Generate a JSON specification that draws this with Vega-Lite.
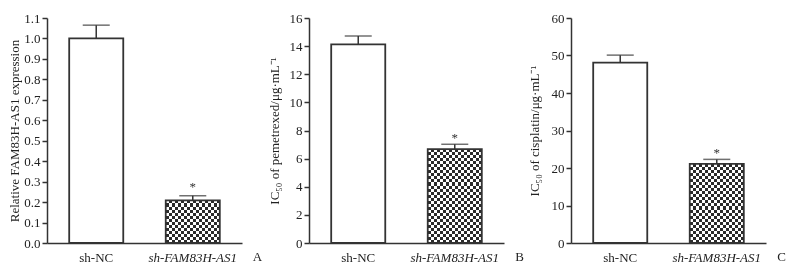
{
  "$schema": "https://vega.github.io/schema/vega-lite/v6.json",
  "background": "white",
  "padding": {"left": 8, "top": 10, "right": 0, "bottom": 0},
  "config": {
    "view": {"stroke": null},
    "font": "Liberation Serif",
    "axis": {"domainColor": "#333", "domainWidth": 1.5, "tickColor": "#333", "tickWidth": 1.5, "labelFont": "Liberation Serif", "labelColor": "#222", "titleFont": "Liberation Serif", "titleColor": "#222", "titleFontWeight": "normal", "grid": false, "labelOverlap": false},
    "axisY": {"tickSize": 5, "labelFontSize": 13, "labelPadding": 2, "titleFontSize": 13},
    "axisX": {"labelAngle": 0, "ticks": false, "labelPadding": 8, "labelFontSize": 13, "titleFontSize": 13, "titleX": 210, "titleY": 13, "titleAlign": "center", "titleBaseline": "middle"}
  },
  "bounds": "flush",
  "spacing": 67,
  "datasets": {
    "A": [
      {"group": "sh-NC", "value": 1.0, "upper": 1.065, "star": ""},
      {"group": "sh-FAM83H-AS1", "value": 0.208, "upper": 0.231, "star": "*"}
    ],
    "B": [
      {"group": "sh-NC", "value": 14.12, "upper": 14.72, "star": ""},
      {"group": "sh-FAM83H-AS1", "value": 6.67, "upper": 7.02, "star": "*"}
    ],
    "C": [
      {"group": "sh-NC", "value": 48.1, "upper": 50.1, "star": ""},
      {"group": "sh-FAM83H-AS1", "value": 21.1, "upper": 22.3, "star": "*"}
    ]
  },
  "hconcat": [
    {
      "width": 195,
      "height": 225,
      "data": {"name": "A"},
      "encoding": {
        "x": {
          "field": "group", "type": "nominal", "sort": ["sh-NC", "sh-FAM83H-AS1"],
          "scale": {"paddingInner": 0.44, "paddingOuter": 0.23},
          "axis": {"title": "A", "labelFontStyle": {"condition": {"test": "datum.value === 'sh-FAM83H-AS1'", "value": "italic"}, "value": "normal"}}
        }
      },
      "layer": [
        {
          "transform": [{"filter": "datum.group === 'sh-FAM83H-AS1'"}],
          "mark": {"type": "bar", "strokeWidth": 0, "fill": {"gradient": "linear", "x1": 0, "y1": 0, "x2": 1, "y2": 0, "stops": [
            {"offset": 0, "color": "#000"}, {"offset": 0.0556, "color": "#000"},
            {"offset": 0.0556, "color": "#fff"}, {"offset": 0.1111, "color": "#fff"},
            {"offset": 0.1111, "color": "#000"}, {"offset": 0.1667, "color": "#000"},
            {"offset": 0.1667, "color": "#fff"}, {"offset": 0.2222, "color": "#fff"},
            {"offset": 0.2222, "color": "#000"}, {"offset": 0.2778, "color": "#000"},
            {"offset": 0.2778, "color": "#fff"}, {"offset": 0.3333, "color": "#fff"},
            {"offset": 0.3333, "color": "#000"}, {"offset": 0.3889, "color": "#000"},
            {"offset": 0.3889, "color": "#fff"}, {"offset": 0.4444, "color": "#fff"},
            {"offset": 0.4444, "color": "#000"}, {"offset": 0.5, "color": "#000"},
            {"offset": 0.5, "color": "#fff"}, {"offset": 0.5556, "color": "#fff"},
            {"offset": 0.5556, "color": "#000"}, {"offset": 0.6111, "color": "#000"},
            {"offset": 0.6111, "color": "#fff"}, {"offset": 0.6667, "color": "#fff"},
            {"offset": 0.6667, "color": "#000"}, {"offset": 0.7222, "color": "#000"},
            {"offset": 0.7222, "color": "#fff"}, {"offset": 0.7778, "color": "#fff"},
            {"offset": 0.7778, "color": "#000"}, {"offset": 0.8333, "color": "#000"},
            {"offset": 0.8333, "color": "#fff"}, {"offset": 0.8889, "color": "#fff"},
            {"offset": 0.8889, "color": "#000"}, {"offset": 0.9444, "color": "#000"},
            {"offset": 0.9444, "color": "#fff"}, {"offset": 1, "color": "#fff"}]}},
          "encoding": {
            "y": {"field": "value", "type": "quantitative", "scale": {"domain": [0, 1.1], "nice": false, "zero": true},
              "axis": {"title": "Relative FAM83H-AS1 expression", "values": [0, 0.1, 0.2, 0.3, 0.4, 0.5, 0.6, 0.7, 0.8, 0.9, 1.0, 1.1], "format": ".1f", "titlePadding": 2}}
          }
        },
        {
          "transform": [{"filter": "datum.group === 'sh-FAM83H-AS1'"}],
          "mark": {"type": "bar", "strokeWidth": 0, "blend": "difference", "fill": {"gradient": "linear", "x1": 0, "y1": 0, "x2": 0, "y2": 1, "stops": [
            {"offset": 0, "color": "#fff"}, {"offset": 0.0714, "color": "#fff"},
            {"offset": 0.0714, "color": "#000"}, {"offset": 0.1429, "color": "#000"},
            {"offset": 0.1429, "color": "#fff"}, {"offset": 0.2143, "color": "#fff"},
            {"offset": 0.2143, "color": "#000"}, {"offset": 0.2857, "color": "#000"},
            {"offset": 0.2857, "color": "#fff"}, {"offset": 0.3571, "color": "#fff"},
            {"offset": 0.3571, "color": "#000"}, {"offset": 0.4286, "color": "#000"},
            {"offset": 0.4286, "color": "#fff"}, {"offset": 0.5, "color": "#fff"},
            {"offset": 0.5, "color": "#000"}, {"offset": 0.5714, "color": "#000"},
            {"offset": 0.5714, "color": "#fff"}, {"offset": 0.6429, "color": "#fff"},
            {"offset": 0.6429, "color": "#000"}, {"offset": 0.7143, "color": "#000"},
            {"offset": 0.7143, "color": "#fff"}, {"offset": 0.7857, "color": "#fff"},
            {"offset": 0.7857, "color": "#000"}, {"offset": 0.8571, "color": "#000"},
            {"offset": 0.8571, "color": "#fff"}, {"offset": 0.9286, "color": "#fff"},
            {"offset": 0.9286, "color": "#000"}, {"offset": 1, "color": "#000"}]}},
          "encoding": {"y": {"field": "value", "type": "quantitative",
            "axis": {"title": "Relative FAM83H-AS1 expression", "values": [0, 0.1, 0.2, 0.3, 0.4, 0.5, 0.6, 0.7, 0.8, 0.9, 1.0, 1.1], "format": ".1f", "titlePadding": 2}}}
        },
        {
          "mark": {"type": "bar", "fill": "white", "stroke": "#333", "strokeWidth": 1.8},
          "encoding": {
            "y": {"field": "value", "type": "quantitative",
              "axis": {"title": "Relative FAM83H-AS1 expression", "values": [0, 0.1, 0.2, 0.3, 0.4, 0.5, 0.6, 0.7, 0.8, 0.9, 1.0, 1.1], "format": ".1f", "titlePadding": 2}},
            "fillOpacity": {"condition": {"test": "datum.group === 'sh-NC'", "value": 1}, "value": 0.17}
          }
        },
        {
          "mark": {"type": "rule", "color": "#333", "strokeWidth": 1.5},
          "encoding": {
            "y": {"field": "value", "type": "quantitative",
              "axis": {"title": "Relative FAM83H-AS1 expression", "values": [0, 0.1, 0.2, 0.3, 0.4, 0.5, 0.6, 0.7, 0.8, 0.9, 1.0, 1.1], "format": ".1f", "titlePadding": 2}},
            "y2": {"field": "upper"}
          }
        },
        {
          "mark": {"type": "tick", "color": "#333", "thickness": 1.5, "size": 27},
          "encoding": {"y": {"field": "upper", "type": "quantitative",
            "axis": {"title": "Relative FAM83H-AS1 expression", "values": [0, 0.1, 0.2, 0.3, 0.4, 0.5, 0.6, 0.7, 0.8, 0.9, 1.0, 1.1], "format": ".1f", "titlePadding": 2}}}
        },
        {
          "mark": {"type": "text", "font": "Liberation Serif", "fontSize": 13, "color": "#333", "baseline": "alphabetic", "dy": -5},
          "encoding": {
            "y": {"field": "upper", "type": "quantitative",
              "axis": {"title": "Relative FAM83H-AS1 expression", "values": [0, 0.1, 0.2, 0.3, 0.4, 0.5, 0.6, 0.7, 0.8, 0.9, 1.0, 1.1], "format": ".1f", "titlePadding": 2}},
            "text": {"field": "star"}
          }
        }
      ]
    },
    {
      "width": 195,
      "height": 225,
      "data": {"name": "B"},
      "encoding": {
        "x": {
          "field": "group", "type": "nominal", "sort": ["sh-NC", "sh-FAM83H-AS1"],
          "scale": {"paddingInner": 0.44, "paddingOuter": 0.23},
          "axis": {"title": "B", "labelFontStyle": {"condition": {"test": "datum.value === 'sh-FAM83H-AS1'", "value": "italic"}, "value": "normal"}}
        }
      },
      "layer": [
        {
          "transform": [{"filter": "datum.group === 'sh-FAM83H-AS1'"}],
          "mark": {"type": "bar", "strokeWidth": 0, "fill": {"gradient": "linear", "x1": 0, "y1": 0, "x2": 1, "y2": 0, "stops": [
            {"offset": 0, "color": "#000"}, {"offset": 0.0556, "color": "#000"},
            {"offset": 0.0556, "color": "#fff"}, {"offset": 0.1111, "color": "#fff"},
            {"offset": 0.1111, "color": "#000"}, {"offset": 0.1667, "color": "#000"},
            {"offset": 0.1667, "color": "#fff"}, {"offset": 0.2222, "color": "#fff"},
            {"offset": 0.2222, "color": "#000"}, {"offset": 0.2778, "color": "#000"},
            {"offset": 0.2778, "color": "#fff"}, {"offset": 0.3333, "color": "#fff"},
            {"offset": 0.3333, "color": "#000"}, {"offset": 0.3889, "color": "#000"},
            {"offset": 0.3889, "color": "#fff"}, {"offset": 0.4444, "color": "#fff"},
            {"offset": 0.4444, "color": "#000"}, {"offset": 0.5, "color": "#000"},
            {"offset": 0.5, "color": "#fff"}, {"offset": 0.5556, "color": "#fff"},
            {"offset": 0.5556, "color": "#000"}, {"offset": 0.6111, "color": "#000"},
            {"offset": 0.6111, "color": "#fff"}, {"offset": 0.6667, "color": "#fff"},
            {"offset": 0.6667, "color": "#000"}, {"offset": 0.7222, "color": "#000"},
            {"offset": 0.7222, "color": "#fff"}, {"offset": 0.7778, "color": "#fff"},
            {"offset": 0.7778, "color": "#000"}, {"offset": 0.8333, "color": "#000"},
            {"offset": 0.8333, "color": "#fff"}, {"offset": 0.8889, "color": "#fff"},
            {"offset": 0.8889, "color": "#000"}, {"offset": 0.9444, "color": "#000"},
            {"offset": 0.9444, "color": "#fff"}, {"offset": 1, "color": "#fff"}]}},
          "encoding": {
            "y": {"field": "value", "type": "quantitative", "scale": {"domain": [0, 16], "nice": false, "zero": true},
              "axis": {"title": "IC₅₀ of pemetrexed/μg·mL⁻¹", "values": [0, 2, 4, 6, 8, 10, 12, 14, 16], "format": "d", "titlePadding": 8}}
          }
        },
        {
          "transform": [{"filter": "datum.group === 'sh-FAM83H-AS1'"}],
          "mark": {"type": "bar", "strokeWidth": 0, "blend": "difference", "fill": {"gradient": "linear", "x1": 0, "y1": 0, "x2": 0, "y2": 1, "stops": [
            {"offset": 0, "color": "#fff"}, {"offset": 0.0323, "color": "#fff"},
            {"offset": 0.0323, "color": "#000"}, {"offset": 0.0645, "color": "#000"},
            {"offset": 0.0645, "color": "#fff"}, {"offset": 0.0968, "color": "#fff"},
            {"offset": 0.0968, "color": "#000"}, {"offset": 0.129, "color": "#000"},
            {"offset": 0.129, "color": "#fff"}, {"offset": 0.1613, "color": "#fff"},
            {"offset": 0.1613, "color": "#000"}, {"offset": 0.1935, "color": "#000"},
            {"offset": 0.1935, "color": "#fff"}, {"offset": 0.2258, "color": "#fff"},
            {"offset": 0.2258, "color": "#000"}, {"offset": 0.2581, "color": "#000"},
            {"offset": 0.2581, "color": "#fff"}, {"offset": 0.2903, "color": "#fff"},
            {"offset": 0.2903, "color": "#000"}, {"offset": 0.3226, "color": "#000"},
            {"offset": 0.3226, "color": "#fff"}, {"offset": 0.3548, "color": "#fff"},
            {"offset": 0.3548, "color": "#000"}, {"offset": 0.3871, "color": "#000"},
            {"offset": 0.3871, "color": "#fff"}, {"offset": 0.4194, "color": "#fff"},
            {"offset": 0.4194, "color": "#000"}, {"offset": 0.4516, "color": "#000"},
            {"offset": 0.4516, "color": "#fff"}, {"offset": 0.4839, "color": "#fff"},
            {"offset": 0.4839, "color": "#000"}, {"offset": 0.5161, "color": "#000"},
            {"offset": 0.5161, "color": "#fff"}, {"offset": 0.5484, "color": "#fff"},
            {"offset": 0.5484, "color": "#000"}, {"offset": 0.5806, "color": "#000"},
            {"offset": 0.5806, "color": "#fff"}, {"offset": 0.6129, "color": "#fff"},
            {"offset": 0.6129, "color": "#000"}, {"offset": 0.6452, "color": "#000"},
            {"offset": 0.6452, "color": "#fff"}, {"offset": 0.6774, "color": "#fff"},
            {"offset": 0.6774, "color": "#000"}, {"offset": 0.7097, "color": "#000"},
            {"offset": 0.7097, "color": "#fff"}, {"offset": 0.7419, "color": "#fff"},
            {"offset": 0.7419, "color": "#000"}, {"offset": 0.7742, "color": "#000"},
            {"offset": 0.7742, "color": "#fff"}, {"offset": 0.8065, "color": "#fff"},
            {"offset": 0.8065, "color": "#000"}, {"offset": 0.8387, "color": "#000"},
            {"offset": 0.8387, "color": "#fff"}, {"offset": 0.871, "color": "#fff"},
            {"offset": 0.871, "color": "#000"}, {"offset": 0.9032, "color": "#000"},
            {"offset": 0.9032, "color": "#fff"}, {"offset": 0.9355, "color": "#fff"},
            {"offset": 0.9355, "color": "#000"}, {"offset": 0.9677, "color": "#000"},
            {"offset": 0.9677, "color": "#fff"}, {"offset": 1, "color": "#fff"}]}},
          "encoding": {"y": {"field": "value", "type": "quantitative",
            "axis": {"title": "IC₅₀ of pemetrexed/μg·mL⁻¹", "values": [0, 2, 4, 6, 8, 10, 12, 14, 16], "format": "d", "titlePadding": 8}}}
        },
        {
          "mark": {"type": "bar", "fill": "white", "stroke": "#333", "strokeWidth": 1.8},
          "encoding": {
            "y": {"field": "value", "type": "quantitative",
              "axis": {"title": "IC₅₀ of pemetrexed/μg·mL⁻¹", "values": [0, 2, 4, 6, 8, 10, 12, 14, 16], "format": "d", "titlePadding": 8}},
            "fillOpacity": {"condition": {"test": "datum.group === 'sh-NC'", "value": 1}, "value": 0.17}
          }
        },
        {
          "mark": {"type": "rule", "color": "#333", "strokeWidth": 1.5},
          "encoding": {
            "y": {"field": "value", "type": "quantitative",
              "axis": {"title": "IC₅₀ of pemetrexed/μg·mL⁻¹", "values": [0, 2, 4, 6, 8, 10, 12, 14, 16], "format": "d", "titlePadding": 8}},
            "y2": {"field": "upper"}
          }
        },
        {
          "mark": {"type": "tick", "color": "#333", "thickness": 1.5, "size": 27},
          "encoding": {"y": {"field": "upper", "type": "quantitative",
            "axis": {"title": "IC₅₀ of pemetrexed/μg·mL⁻¹", "values": [0, 2, 4, 6, 8, 10, 12, 14, 16], "format": "d", "titlePadding": 8}}}
        },
        {
          "mark": {"type": "text", "font": "Liberation Serif", "fontSize": 13, "color": "#333", "baseline": "alphabetic", "dy": -2},
          "encoding": {
            "y": {"field": "upper", "type": "quantitative",
              "axis": {"title": "IC₅₀ of pemetrexed/μg·mL⁻¹", "values": [0, 2, 4, 6, 8, 10, 12, 14, 16], "format": "d", "titlePadding": 8}},
            "text": {"field": "star"}
          }
        }
      ]
    },
    {
      "width": 195,
      "height": 225,
      "data": {"name": "C"},
      "encoding": {
        "x": {
          "field": "group", "type": "nominal", "sort": ["sh-NC", "sh-FAM83H-AS1"],
          "scale": {"paddingInner": 0.44, "paddingOuter": 0.23},
          "axis": {"title": "C", "labelFontStyle": {"condition": {"test": "datum.value === 'sh-FAM83H-AS1'", "value": "italic"}, "value": "normal"}}
        }
      },
      "layer": [
        {
          "transform": [{"filter": "datum.group === 'sh-FAM83H-AS1'"}],
          "mark": {"type": "bar", "strokeWidth": 0, "fill": {"gradient": "linear", "x1": 0, "y1": 0, "x2": 1, "y2": 0, "stops": [
            {"offset": 0, "color": "#000"}, {"offset": 0.0556, "color": "#000"},
            {"offset": 0.0556, "color": "#fff"}, {"offset": 0.1111, "color": "#fff"},
            {"offset": 0.1111, "color": "#000"}, {"offset": 0.1667, "color": "#000"},
            {"offset": 0.1667, "color": "#fff"}, {"offset": 0.2222, "color": "#fff"},
            {"offset": 0.2222, "color": "#000"}, {"offset": 0.2778, "color": "#000"},
            {"offset": 0.2778, "color": "#fff"}, {"offset": 0.3333, "color": "#fff"},
            {"offset": 0.3333, "color": "#000"}, {"offset": 0.3889, "color": "#000"},
            {"offset": 0.3889, "color": "#fff"}, {"offset": 0.4444, "color": "#fff"},
            {"offset": 0.4444, "color": "#000"}, {"offset": 0.5, "color": "#000"},
            {"offset": 0.5, "color": "#fff"}, {"offset": 0.5556, "color": "#fff"},
            {"offset": 0.5556, "color": "#000"}, {"offset": 0.6111, "color": "#000"},
            {"offset": 0.6111, "color": "#fff"}, {"offset": 0.6667, "color": "#fff"},
            {"offset": 0.6667, "color": "#000"}, {"offset": 0.7222, "color": "#000"},
            {"offset": 0.7222, "color": "#fff"}, {"offset": 0.7778, "color": "#fff"},
            {"offset": 0.7778, "color": "#000"}, {"offset": 0.8333, "color": "#000"},
            {"offset": 0.8333, "color": "#fff"}, {"offset": 0.8889, "color": "#fff"},
            {"offset": 0.8889, "color": "#000"}, {"offset": 0.9444, "color": "#000"},
            {"offset": 0.9444, "color": "#fff"}, {"offset": 1, "color": "#fff"}]}},
          "encoding": {
            "y": {"field": "value", "type": "quantitative", "scale": {"domain": [0, 60], "nice": false, "zero": true},
              "axis": {"title": "IC₅₀ of cisplatin/μg·mL⁻¹", "values": [0, 10, 20, 30, 40, 50, 60], "format": "d", "titlePadding": 10}}
          }
        },
        {
          "transform": [{"filter": "datum.group === 'sh-FAM83H-AS1'"}],
          "mark": {"type": "bar", "strokeWidth": 0, "blend": "difference", "fill": {"gradient": "linear", "x1": 0, "y1": 0, "x2": 0, "y2": 1, "stops": [
            {"offset": 0, "color": "#fff"}, {"offset": 0.0385, "color": "#fff"},
            {"offset": 0.0385, "color": "#000"}, {"offset": 0.0769, "color": "#000"},
            {"offset": 0.0769, "color": "#fff"}, {"offset": 0.1154, "color": "#fff"},
            {"offset": 0.1154, "color": "#000"}, {"offset": 0.1538, "color": "#000"},
            {"offset": 0.1538, "color": "#fff"}, {"offset": 0.1923, "color": "#fff"},
            {"offset": 0.1923, "color": "#000"}, {"offset": 0.2308, "color": "#000"},
            {"offset": 0.2308, "color": "#fff"}, {"offset": 0.2692, "color": "#fff"},
            {"offset": 0.2692, "color": "#000"}, {"offset": 0.3077, "color": "#000"},
            {"offset": 0.3077, "color": "#fff"}, {"offset": 0.3462, "color": "#fff"},
            {"offset": 0.3462, "color": "#000"}, {"offset": 0.3846, "color": "#000"},
            {"offset": 0.3846, "color": "#fff"}, {"offset": 0.4231, "color": "#fff"},
            {"offset": 0.4231, "color": "#000"}, {"offset": 0.4615, "color": "#000"},
            {"offset": 0.4615, "color": "#fff"}, {"offset": 0.5, "color": "#fff"},
            {"offset": 0.5, "color": "#000"}, {"offset": 0.5385, "color": "#000"},
            {"offset": 0.5385, "color": "#fff"}, {"offset": 0.5769, "color": "#fff"},
            {"offset": 0.5769, "color": "#000"}, {"offset": 0.6154, "color": "#000"},
            {"offset": 0.6154, "color": "#fff"}, {"offset": 0.6538, "color": "#fff"},
            {"offset": 0.6538, "color": "#000"}, {"offset": 0.6923, "color": "#000"},
            {"offset": 0.6923, "color": "#fff"}, {"offset": 0.7308, "color": "#fff"},
            {"offset": 0.7308, "color": "#000"}, {"offset": 0.7692, "color": "#000"},
            {"offset": 0.7692, "color": "#fff"}, {"offset": 0.8077, "color": "#fff"},
            {"offset": 0.8077, "color": "#000"}, {"offset": 0.8462, "color": "#000"},
            {"offset": 0.8462, "color": "#fff"}, {"offset": 0.8846, "color": "#fff"},
            {"offset": 0.8846, "color": "#000"}, {"offset": 0.9231, "color": "#000"},
            {"offset": 0.9231, "color": "#fff"}, {"offset": 0.9615, "color": "#fff"},
            {"offset": 0.9615, "color": "#000"}, {"offset": 1, "color": "#000"}]}},
          "encoding": {"y": {"field": "value", "type": "quantitative",
            "axis": {"title": "IC₅₀ of cisplatin/μg·mL⁻¹", "values": [0, 10, 20, 30, 40, 50, 60], "format": "d", "titlePadding": 10}}}
        },
        {
          "mark": {"type": "bar", "fill": "white", "stroke": "#333", "strokeWidth": 1.8},
          "encoding": {
            "y": {"field": "value", "type": "quantitative",
              "axis": {"title": "IC₅₀ of cisplatin/μg·mL⁻¹", "values": [0, 10, 20, 30, 40, 50, 60], "format": "d", "titlePadding": 10}},
            "fillOpacity": {"condition": {"test": "datum.group === 'sh-NC'", "value": 1}, "value": 0.17}
          }
        },
        {
          "mark": {"type": "rule", "color": "#333", "strokeWidth": 1.5},
          "encoding": {
            "y": {"field": "value", "type": "quantitative",
              "axis": {"title": "IC₅₀ of cisplatin/μg·mL⁻¹", "values": [0, 10, 20, 30, 40, 50, 60], "format": "d", "titlePadding": 10}},
            "y2": {"field": "upper"}
          }
        },
        {
          "mark": {"type": "tick", "color": "#333", "thickness": 1.5, "size": 27},
          "encoding": {"y": {"field": "upper", "type": "quantitative",
            "axis": {"title": "IC₅₀ of cisplatin/μg·mL⁻¹", "values": [0, 10, 20, 30, 40, 50, 60], "format": "d", "titlePadding": 10}}}
        },
        {
          "mark": {"type": "text", "font": "Liberation Serif", "fontSize": 13, "color": "#333", "baseline": "alphabetic", "dy": -2},
          "encoding": {
            "y": {"field": "upper", "type": "quantitative",
              "axis": {"title": "IC₅₀ of cisplatin/μg·mL⁻¹", "values": [0, 10, 20, 30, 40, 50, 60], "format": "d", "titlePadding": 10}},
            "text": {"field": "star"}
          }
        }
      ]
    }
  ]
}
